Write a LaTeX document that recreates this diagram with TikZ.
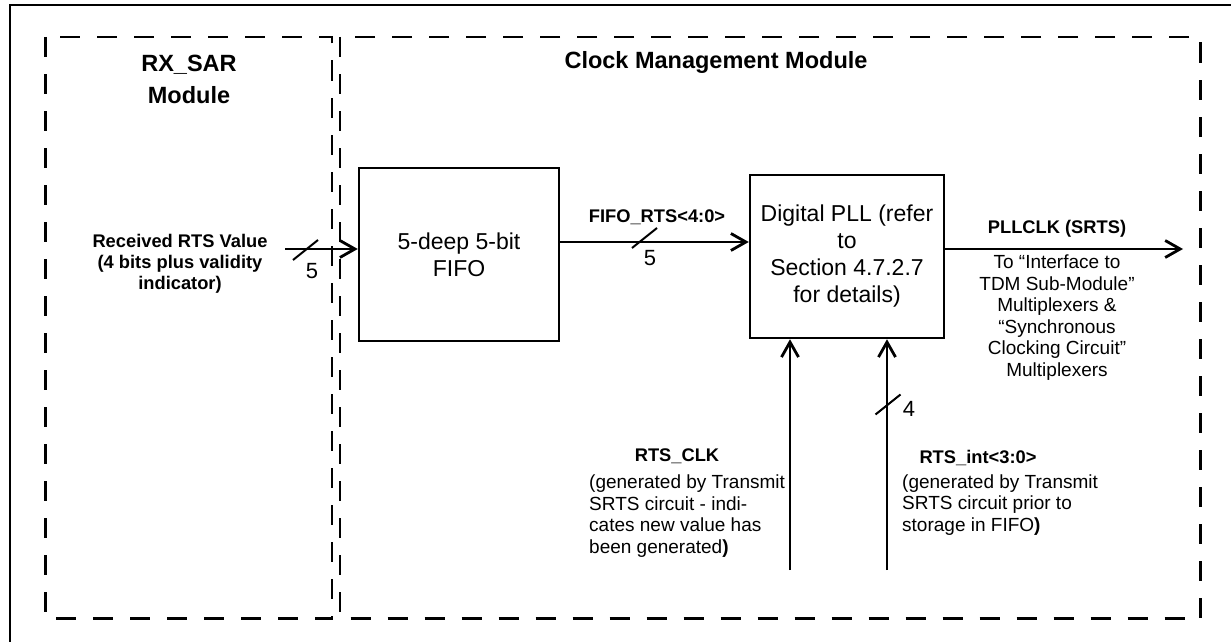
\documentclass[tikz,border=0pt]{standalone}
\usepackage{fontspec}
\setmainfont{Liberation Sans}
\usetikzlibrary{arrows.meta, positioning, calc}

\begin{document}
\begin{tikzpicture}[x=1pt, y=-1pt,
    blk/.style={draw, line width=2.5pt, inner sep=0pt, align=center, font=\fontsize{23}{27}\selectfont},
    modbox/.style={line width=2.5pt, dash pattern=on 20pt off 17pt},
    sig/.style={line width=2.8pt, -{Straight Barb[length=15pt,width=17pt]}},
    slash/.style={line width=2pt},
    title/.style={inner sep=0pt, align=center, font=\bfseries\fontsize{23.5}{32}\selectfont},
    lbl/.style={inner sep=0pt, align=center, font=\bfseries\fontsize{18.3}{21}\selectfont},
    note/.style={inner sep=0pt, align=left, font=\fontsize{19}{21.5}\selectfont},
    busw/.style={inner sep=0pt, font=\fontsize{22}{25}\selectfont}]
    \useasboundingbox (0,0) rectangle (1231,642);
    \clip (0,0) rectangle (1231,642);

    % frame and module outlines
    \draw[line width=2.5pt] (10,660) -- (10,5) -- (1250,5);
    \draw[modbox] (45.5,37) rectangle (332,618.5);
    \draw[modbox] (340,37) rectangle (1200.5,618.5);
    \node[title] (rxtitle) at (189,79) {RX\_SAR\\Module};
    \node[title] (cmtitle) at (716,62) {Clock Management Module};

    % blocks
    \node[blk, minimum width=200pt, minimum height=173pt] (fifo) at (459,254.5) {5-deep 5-bit\\FIFO};
    \node[blk, minimum width=194pt, minimum height=163pt] (pll) at (847,256.5) {Digital PLL (refer\\to\\Section 4.7.2.7\\for details)};

    % signal ends
    \coordinate (rxin) at (285,249);
    \coordinate (f2p) at (559,242);
    \coordinate (pllout) at (1183,249);
    \coordinate (clkin) at (790,570);
    \coordinate (intin) at (887,570);

    \draw[sig] (rxin) -- (rxin -| fifo.west);
    \draw[sig] (f2p) -- (f2p -| pll.west);
    \draw[sig] (pll.east |- pllout) -- (pllout);
    \draw[sig] (clkin) -- (clkin |- pll.south);
    \draw[sig] (intin) -- (intin |- pll.south);

    % bus width marks
    \foreach \x/\y in {305.5/250, 644.5/238, 888/404.5}
        \draw[slash] (\x-12.5,\y+10) -- (\x+12.5,\y-10);
    \node[busw] (w5a) at (312,271) {5};
    \node[busw] (w5b) at (650,258) {5};
    \node[busw] (w4) at (909,409) {4};

    % labels
    \node[lbl] (rxval) at (180,264) {Received RTS Value\\(4 bits plus validity\\indicator)};
    \node[lbl] (fiforts) at (657,217) {FIFO\_RTS<4:0>};
    \node[lbl] (pllclk) at (1057,229) {PLLCLK (SRTS)};
    \node[note, align=center] (dest) at (1057,317.5) {To “Interface to\\TDM Sub-Module”\\Multiplexers \&\\“Synchronous\\Clocking Circuit”\\Multiplexers};
    \node[lbl] (clkname) at (677,456) {RTS\_CLK};
    \node[note, anchor=west] (clknote) at (589,516) {(generated by Transmit\\SRTS circuit - indi-\\cates new value has\\been generated\textbf{)}};
    \node[lbl] (intname) at (978,458) {RTS\_int<3:0>};
    \node[note, anchor=west] (intnote) at (902,505) {(generated by Transmit\\SRTS circuit prior to\\storage in FIFO\textbf{)}};
\end{tikzpicture}
\end{document}
